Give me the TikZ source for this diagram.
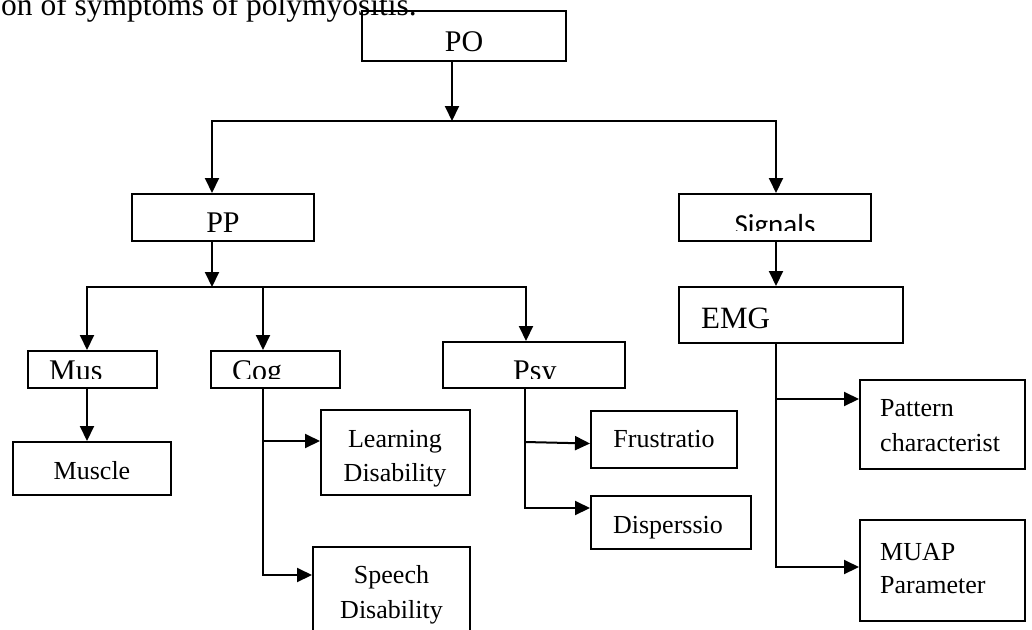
\documentclass[tikz,border=0pt]{standalone}
\usepackage{fontspec}
\setmainfont{Liberation Serif}
\newfontfamily\calibrifont{Carlito}
\usetikzlibrary{arrows.meta}

% rectangle node from its corner coordinates: name, x1, y1, x2, y2
\newcommand\boxat[5]{%
  \node[box, minimum width={#4-#2}, minimum height={#5-#3}] (#1)
    at ({(#2+#4)/2},{(#3+#5)/2}) {};}

\begin{document}
\begin{tikzpicture}[x=1pt, y=-1pt,
  box/.style={draw, line width=2pt, inner sep=0pt},
  link/.style={line width=2pt},
  arr/.style={link, -{Triangle[length=15pt,width=14pt]}},
  lbl/.style={inner sep=0pt, anchor=base, font=\fontsize{26}{31}\selectfont},
  lblw/.style={lbl, anchor=base west},
  big/.style={inner sep=0pt, anchor=base, font=\fontsize{30}{36}\selectfont},
  bigw/.style={big, anchor=base west},
]
\useasboundingbox (0,0) rectangle (1032,629);
\clip (0,0) rectangle (1032,629);

% running text above the chart
\node[inner sep=0pt, anchor=base east, font=\fontsize{31.5}{36}\selectfont]
  (intro) at (417,15) {on of symptoms of polymyositis.};

% boxes
\boxat{PO}{362}{11}{566}{61}
\boxat{PP}{132}{194}{314}{241}
\boxat{Sig}{679}{194}{871}{241}
\boxat{EMG}{679}{287}{903}{343}
\boxat{Mus}{28}{351}{157}{388}
\boxat{Cog}{211}{351}{340}{388}
\boxat{Psy}{443}{342}{625}{388}
\boxat{Muscle}{13}{442}{171}{495}
\boxat{Learn}{321}{410}{470}{495}
\boxat{Speech}{313}{547}{470}{660}
\boxat{Frus}{591}{411}{737}{468}
\boxat{Disp}{591}{496}{751}{549}
\boxat{Pat}{860}{380}{1025}{469}
\boxat{MUAP}{860}{520}{1025}{621}

% labels
\node[big] (POt) at (464,51) {PO};
\node[big] (PPt) at (223,232) {PP};
\begin{scope}
  \clip (679,194) rectangle (871,230);
  \node[inner sep=0pt, anchor=base, font=\calibrifont\fontsize{29}{35}\selectfont]
    (Sigt) at (775,234) {Signals};
\end{scope}
\node[bigw, font=\fontsize{31}{36}\selectfont] (EMGt) at (701,328) {EMG};
\begin{scope}
  \clip (28,351) rectangle (157,378);
  \node[bigw] (Must) at (49,380) {Mus};
\end{scope}
\begin{scope}
  \clip (211,351) rectangle (340,378);
  \node[bigw] (Cogt) at (232,380) {Cog};
\end{scope}
\begin{scope}
  \clip (443,342) rectangle (625,378);
  \node[bigw] (Psyt) at (513,380) {Psy};
\end{scope}
\node[lbl] (Musclet) at (92,479) {Muscle};
\node[lbl] (Learnt1) at (395,447) {Learning};
\node[lbl] (Learnt2) at (395,481) {Disability};
\node[lbl] (Speecht1) at (391.5,583) {Speech};
\node[lbl] (Speecht2) at (391.5,618) {Disability};
\node[lbl] (Frust) at (664,447) {Frustratio};
\node[lbl] (Dispt) at (668,533) {Disperssio};
\node[lblw] (Patt1) at (880,416) {Pattern};
\node[lblw] (Patt2) at (880,451) {characterist};
\node[lblw] (MUAPt1) at (880,560) {MUAP};
\node[lblw] (MUAPt2) at (880,593) {Parameter};

% junction points
\coordinate (poJ) at (452,121);
\coordinate (busL) at (212,121);
\coordinate (busR) at (776,121);
\coordinate (ppJ) at (212,287);
\coordinate (b2L) at (87,287);
\coordinate (b2M) at (263,287);
\coordinate (b2R) at (526,287);
\coordinate (cogA) at (263,441);
\coordinate (cogB) at (263,575);
\coordinate (psyA) at (525,442);
\coordinate (psyB) at (525,508);
\coordinate (emgA) at (776,399);
\coordinate (emgB) at (776,567);

% connectors
\draw[arr] (PO.south -| poJ) -- (poJ);
\draw[arr] (busR) -- (busL) -- (busL |- PP.north);
\draw[arr] (busL) -- (busR) -- (busR |- Sig.north);
\draw[arr] (Sig.south -| busR) -- (busR |- EMG.north);

\draw[arr] (PP.south -| ppJ) -- (ppJ);
\draw[arr] (b2R) -- (b2L) -- (b2L |- Mus.north);
\draw[arr] (b2L) -- (b2R) -- (b2R |- Psy.north);
\draw[arr] (b2M) -- (b2M |- Cog.north);

\draw[arr] (Mus.south -| b2L) -- (b2L |- Muscle.north);

\draw[arr] (Cog.south -| cogA) -- (cogB) -- (cogB -| Speech.west);
\draw[arr] (cogA) -- (cogA -| Learn.west);

\draw[arr] (Psy.south -| psyB) -- (psyB) -- (psyB -| Disp.west);
\draw[arr] (psyA) -- ([yshift=-4pt]Frus.west);

\draw[arr] (EMG.south -| emgA) -- (emgB) -- (emgB -| MUAP.west);
\draw[arr] (emgA) -- (emgA -| Pat.west);
\end{tikzpicture}
\end{document}
